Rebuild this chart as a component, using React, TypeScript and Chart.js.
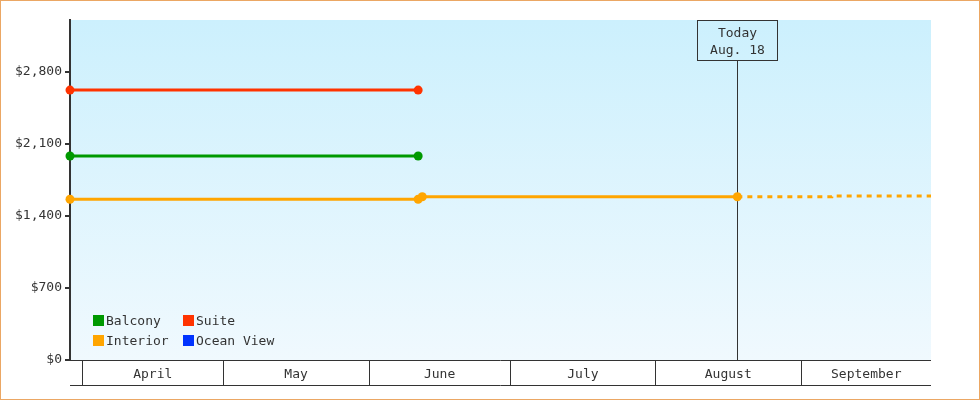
import { useEffect, useRef } from 'react';
import { Chart, registerables } from 'chart.js';

Chart.register(...registerables);

// Series (dates as UTC timestamps, prices in USD)
const seriesNames = ['Balcony', 'Suite', 'Interior', 'Ocean View'];
const seriesColors = ['#009900', '#ff3300', '#ffa500', '#0033ff'];

const balconyDates = ['2016-03-29T11:00', '2016-06-11T13:00'];
const balconyPrices = [1980, 1980];

const suiteDates = ['2016-03-29T11:00', '2016-06-11T13:00'];
const suitePrices = [2620, 2620];

const interiorDates = ['2016-03-29T11:00', '2016-06-11T13:00', '2016-06-12T10:00', '2016-08-18T11:00'];
const interiorPrices = [1560, 1560, 1584, 1584];

// projected interior price after today (dashed)
const forecastDates = ['2016-08-18T11:00', '2016-09-07T14:00', '2016-09-07T15:00', '2016-09-28T16:00'];
const forecastPrices = [1584, 1584, 1592, 1592];

const oceanViewDates: string[] = [];
const oceanViewPrices: number[] = [];

const monthStarts = ['2016-04-01', '2016-05-01', '2016-06-01', '2016-07-01', '2016-08-01', '2016-09-01'];
const monthLabels = ['April', 'May', 'June', 'July', 'August', 'September'];

const todayDate = '2016-08-18T11:00';
const todayLabel = ['Today', 'Aug. 18'];

const yTicks = [0, 700, 1400, 2100, 2800];
const yMax = 3300;

const FONT = "13px 'DejaVu Sans Mono', monospace";
const INK = '#333';

const toDay = (s: string) => Date.parse(s.includes('T') ? s + 'Z' : s + 'T00:00Z') / 86400000;
const points = (dates: string[], prices: number[]) => dates.map((d, i) => ({ x: toDay(d), y: prices[i] }));

const decorPlugin = {
  id: 'decor',
  beforeDraw(chart: any) {
    const { ctx, chartArea: a } = chart;
    const g = ctx.createLinearGradient(0, a.top, 0, a.bottom);
    g.addColorStop(0, '#ccf0fd');
    g.addColorStop(1, '#f0f9fe');
    ctx.save();
    ctx.fillStyle = g;
    ctx.fillRect(a.left, a.top, a.right - a.left, a.bottom - a.top);
    ctx.restore();
  },
  beforeDatasetsDraw(chart: any) {
    const { ctx, chartArea: a } = chart;
    const xs = chart.scales.x;
    ctx.save();
    ctx.strokeStyle = INK;
    ctx.fillStyle = INK;
    ctx.lineWidth = 1;
    ctx.font = FONT;

    // month band under the plot
    const bandBottom = a.bottom + 25;
    ctx.beginPath();
    ctx.moveTo(a.left, a.bottom + 0.5);
    ctx.lineTo(a.right, a.bottom + 0.5);
    ctx.moveTo(a.left, bandBottom + 0.5);
    ctx.lineTo(a.right, bandBottom + 0.5);
    ctx.stroke();
    ctx.textAlign = 'center';
    ctx.textBaseline = 'middle';
    monthStarts.forEach((m, i) => {
      const x0 = Math.round(xs.getPixelForValue(toDay(m))) + 0.5;
      const next = i + 1 < monthStarts.length ? xs.getPixelForValue(toDay(monthStarts[i + 1])) : a.right;
      const x1 = Math.min(next, a.right);
      ctx.beginPath();
      ctx.moveTo(x0, a.bottom);
      ctx.lineTo(x0, bandBottom);
      ctx.stroke();
      ctx.fillText(monthLabels[i], (x0 + x1) / 2, a.bottom + 14.5);
    });

    // today marker
    const tx = Math.round(xs.getPixelForValue(toDay(todayDate))) + 0.5;
    const boxTop = a.top + 0.5;
    const boxH = 40;
    const boxW = 80;
    ctx.strokeRect(tx - boxW / 2, boxTop, boxW, boxH);
    ctx.beginPath();
    ctx.moveTo(tx, boxTop + boxH);
    ctx.lineTo(tx, a.bottom);
    ctx.stroke();
    ctx.fillText(todayLabel[0], tx, boxTop + 13);
    ctx.fillText(todayLabel[1], tx, boxTop + 30);
    ctx.restore();
  },
  afterDraw(chart: any) {
    const { ctx, chartArea: a } = chart;
    ctx.save();
    ctx.font = FONT;
    ctx.textAlign = 'left';
    ctx.textBaseline = 'middle';
    // legend, two columns inside the plot
    seriesNames.forEach((name, i) => {
      const col = i % 2;
      const row = Math.floor(i / 2);
      const x = a.left + 23 + col * 90;
      const y = a.bottom - 45 + row * 20;
      ctx.fillStyle = seriesColors[i];
      ctx.fillRect(x, y, 11, 11);
      ctx.fillStyle = INK;
      ctx.fillText(name, x + 13, y + 7);
    });
    // outer frame
    ctx.strokeStyle = '#eba764';
    ctx.lineWidth = 1;
    ctx.strokeRect(0.5, 0.5, chart.width - 1, chart.height - 1);
    ctx.restore();
  },
};

export default function App() {
  const canvasRef = useRef<HTMLCanvasElement>(null);
  const chartRef = useRef<Chart | null>(null);

  useEffect(() => {
    if (!canvasRef.current) return;
    if (chartRef.current) chartRef.current.destroy();

    const line = (i: number, dates: string[], prices: number[]) => ({
      label: seriesNames[i],
      data: points(dates, prices),
      borderColor: seriesColors[i],
      backgroundColor: seriesColors[i],
      borderWidth: 3,
      pointRadius: 4.5,
      pointHoverRadius: 4.5,
      pointBorderWidth: 0,
      tension: 0,
      clip: false as const,
    });

    chartRef.current = new Chart(canvasRef.current, {
      type: 'line',
      data: {
        datasets: [
          line(0, balconyDates, balconyPrices),
          line(1, suiteDates, suitePrices),
          line(2, interiorDates, interiorPrices),
          line(3, oceanViewDates, oceanViewPrices),
          {
            ...line(2, forecastDates, forecastPrices),
            label: 'Interior (projected)',
            borderDash: [5, 5],
            pointRadius: 0,
            pointHoverRadius: 0,
          },
        ],
      },
      options: {
        responsive: false,
        animation: false,
        events: [],
        font: { family: "'DejaVu Sans Mono', monospace", size: 13 },
        layout: { padding: { top: 20, right: 49, bottom: 40, left: 0 } },
        plugins: { legend: { display: false }, tooltip: { enabled: false } },
        scales: {
          x: {
            type: 'linear',
            display: false,
            min: toDay(interiorDates[0]),
            max: toDay(forecastDates[forecastDates.length - 1]),
          },
          y: {
            min: 0,
            max: yMax,
            afterFit: (s: any) => {
              s.width = 70;
            },
            afterBuildTicks: (s: any) => {
              s.ticks = yTicks.map((v) => ({ value: v }));
            },
            border: { color: INK, width: 2 },
            grid: { drawOnChartArea: false, drawTicks: true, tickLength: 5, color: INK, lineWidth: 2 },
            ticks: {
              color: INK,
              padding: 3,
              font: { family: "'DejaVu Sans Mono', monospace", size: 13 },
              callback: (v: any) => '$' + Number(v).toLocaleString('en-US'),
            },
          },
        },
      } as any,
      plugins: [decorPlugin],
    });

    return () => {
      if (chartRef.current) {
        chartRef.current.destroy();
        chartRef.current = null;
      }
    };
  }, []);

  return (
    <div style={{ position: 'absolute', left: 0, top: 0, width: 980, height: 400, background: '#fff' }}>
      <canvas ref={canvasRef} width={980} height={400} style={{ display: 'block', width: 980, height: 400 }} />
    </div>
  );
}
